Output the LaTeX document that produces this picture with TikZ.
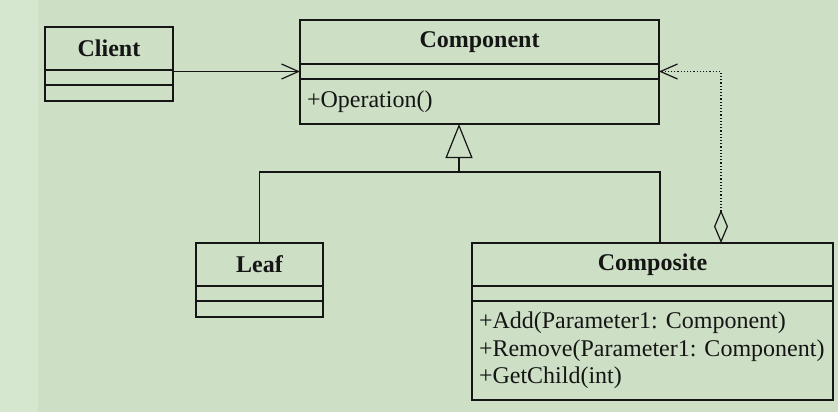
\documentclass[tikz,border=0pt]{standalone}
\usepackage{fontspec}
\setmainfont{Liberation Serif}
\usepackage{xcolor}
\usepackage{tikz}
\usetikzlibrary{positioning,arrows.meta}
\definecolor{bgmain}{HTML}{CDDFC5}
\definecolor{bgstrip}{HTML}{D5E7CF}
\definecolor{ink}{HTML}{151515}

\begin{document}
\begin{tikzpicture}[
			x=0.5pt, y=-0.5pt,
			every node/.style={outer sep=0pt, inner sep=0pt, text=ink},
			classname/.style={draw=ink, line width=1.1pt, rectangle, minimum height=21.5pt, font=\fontsize{12}{14}\selectfont\bfseries},
			classpart/.style={draw=ink, line width=1.1pt, rectangle, minimum height=7.5pt},
			methods/.style={draw=ink, line width=1.1pt, rectangle, align=left, inner xsep=3.5pt, font=\fontsize{12}{13.75}\selectfont\frenchspacing},
			link/.style={draw=ink, line width=0.6pt},
			assoc/.style={link, -{Straight Barb[length=8.5pt, width=7.5pt]}},
			inherit/.style={link, -{Triangle[open, length=17pt, width=13.5pt, fill=bgmain]}},
			aggr/.style={link, densely dotted, {Diamond[open, length=16.5pt, width=7pt, fill=bgmain]}-{Straight Barb[length=8.5pt, width=7.5pt]}}
			]
			\fill[bgmain] (0,0) rectangle (838,412);
			\fill[bgstrip] (0,0) rectangle (38,412);
			\useasboundingbox (0,0) rectangle (838,412);

			% Client
			\node[classname, minimum width=64pt] (client) at (109,48.5) {Client};
			\node[classpart, minimum width=64pt, below=0pt of client] (client-attr) {};
			\node[classpart, minimum width=64pt, minimum height=8pt, below=0pt of client-attr] (client-ops) {};

			% Component
			\node[classname, minimum width=179.5pt, minimum height=22pt] (comp) at (479.5,42) {Component};
			\node[classpart, minimum width=179.5pt, below=0pt of comp] (comp-attr) {};
			\node[methods, text width=172.5pt, minimum height=22.5pt, below=0pt of comp-attr] (comp-ops) {+Operation()};

			% Leaf
			\node[classname, minimum width=63.5pt] (leaf) at (259.5,264.5) {Leaf};
			\node[classpart, minimum width=63.5pt, below=0pt of leaf] (leaf-attr) {};
			\node[classpart, minimum width=63.5pt, minimum height=8pt, below=0pt of leaf-attr] (leaf-ops) {};

			% Composite
			\node[classname, minimum width=180.5pt] (compo) at (652.5,264.5) {Composite};
			\node[classpart, minimum width=180.5pt, below=0pt of compo] (compo-attr) {};
			\node[methods, text width=173.5pt, minimum height=49.5pt, below=0pt of compo-attr] (compo-ops)
				{+Add(Parameter1: Component)\\+Remove(Parameter1: Component)\\+GetChild(int)};

			% connectors
			\draw[assoc] (client-attr.east |- comp-attr.west) -- (comp-attr.west);
			\coordinate (fork) at (459,172);
			\draw[inherit] (fork) -- (fork |- comp-ops.south);
			\draw[link] (leaf.north) |- (fork) -| ([xshift=3.75pt]compo.north);
			\draw[aggr] ([xshift=34.25pt]compo.north) |- (comp-attr.east);
		\end{tikzpicture}
\end{document}
